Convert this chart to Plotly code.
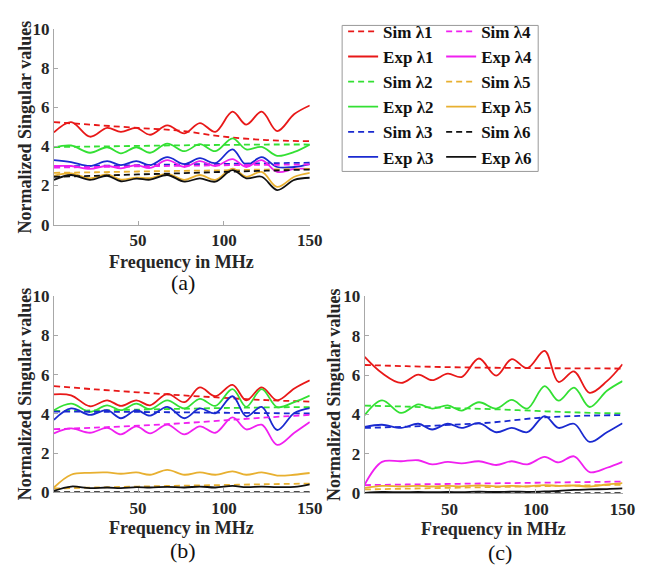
import plotly.graph_objects as go

W, H = 661, 573
SERIF = "Liberation Serif"

# ---------------- data ----------------
exp_freq = [1, 11, 22, 32, 40, 49, 57, 67, 77, 86, 95, 105, 113, 122, 131, 141, 150]
sim_freq = [1, 25, 50, 75, 100, 125, 150]

# panel (a)
a_sim1 = [5.25, 5.10, 4.95, 4.80, 4.50, 4.33, 4.27]
a_sim2 = [3.97, 4.00, 4.03, 4.06, 4.08, 4.10, 4.10]
a_sim3 = [2.98, 3.01, 3.04, 3.08, 3.11, 3.14, 3.17]
a_sim4 = [2.92, 2.95, 2.98, 3.01, 3.04, 3.06, 3.08]
a_sim5 = [2.65, 2.68, 2.72, 2.75, 2.78, 2.82, 2.85]
a_sim6 = [2.45, 2.50, 2.57, 2.63, 2.70, 2.76, 2.82]
a_exp1 = [4.72, 5.25, 4.50, 4.95, 4.75, 4.95, 4.60, 5.08, 4.67, 5.20, 4.75, 5.78, 5.12, 5.78, 4.79, 5.66, 6.10]
a_exp2 = [3.95, 4.05, 3.68, 3.96, 3.65, 3.96, 3.68, 4.15, 3.76, 4.12, 3.76, 4.42, 3.85, 3.98, 3.52, 3.72, 4.10]
a_exp3 = [3.30, 3.20, 3.00, 3.25, 3.05, 3.25, 3.05, 3.45, 3.10, 3.40, 3.15, 3.85, 3.05, 3.45, 2.95, 2.95, 3.10]
a_exp4 = [3.00, 3.00, 2.85, 3.00, 2.88, 3.05, 2.90, 3.30, 2.95, 3.25, 3.00, 3.35, 2.95, 3.30, 2.70, 2.85, 2.85]
a_exp5 = [2.50, 2.62, 2.37, 2.57, 2.30, 2.40, 2.38, 2.60, 2.29, 2.54, 2.29, 2.87, 2.45, 2.70, 1.93, 2.45, 2.65]
a_exp6 = [2.29, 2.54, 2.29, 2.50, 2.22, 2.35, 2.30, 2.54, 2.20, 2.37, 2.20, 2.79, 2.37, 2.45, 1.77, 2.29, 2.40]

# panel (b)
b_sim1 = [5.42, 5.25, 5.10, 4.95, 4.82, 4.70, 4.63]
b_sim2 = [4.15, 4.18, 4.22, 4.26, 4.30, 4.33, 4.35]
b_sim3 = [4.12, 4.11, 4.10, 4.08, 4.06, 4.04, 4.02]
b_sim4 = [3.22, 3.30, 3.40, 3.52, 3.67, 3.82, 3.95]
b_sim5 = [0.20, 0.25, 0.30, 0.34, 0.38, 0.42, 0.45]
b_sim6 = [0.02, 0.02, 0.02, 0.02, 0.02, 0.02, 0.02]
b_exp1 = [5.00, 4.95, 4.39, 4.69, 4.41, 4.69, 4.44, 5.02, 4.60, 5.35, 4.90, 5.48, 4.69, 5.35, 4.69, 5.30, 5.71]
b_exp2 = [4.19, 4.52, 4.11, 4.44, 4.19, 4.52, 4.24, 4.69, 4.28, 4.77, 4.41, 5.26, 4.36, 5.26, 4.35, 4.60, 4.93]
b_exp3 = [3.70, 4.28, 3.95, 4.19, 3.78, 4.19, 3.91, 4.36, 3.78, 4.28, 4.03, 4.90, 3.87, 4.36, 3.18, 4.05, 4.30]
b_exp4 = [3.01, 3.26, 3.04, 3.29, 2.96, 3.37, 3.01, 3.45, 2.96, 3.37, 3.04, 3.82, 3.21, 3.45, 2.42, 3.04, 3.59]
b_exp5 = [0.25, 0.90, 1.00, 1.02, 0.95, 1.02, 0.90, 1.15, 0.90, 1.02, 0.90, 1.07, 0.90, 1.02, 0.86, 0.90, 0.99]
b_exp6 = [0.08, 0.30, 0.22, 0.25, 0.22, 0.27, 0.25, 0.28, 0.25, 0.30, 0.25, 0.33, 0.27, 0.30, 0.27, 0.28, 0.41]

# panel (c)
c_sim1 = [6.51, 6.45, 6.40, 6.37, 6.35, 6.34, 6.33]
c_sim2 = [4.45, 4.40, 4.33, 4.27, 4.18, 4.10, 4.05]
c_sim3 = [3.32, 3.38, 3.47, 3.60, 3.82, 3.93, 3.97]
c_sim4 = [0.42, 0.45, 0.48, 0.51, 0.54, 0.57, 0.60]
c_sim5 = [0.20, 0.24, 0.28, 0.32, 0.36, 0.40, 0.44]
c_sim6 = [0.01, 0.01, 0.01, 0.01, 0.01, 0.01, 0.01]
c_exp1 = [6.92, 6.10, 5.60, 6.02, 5.74, 6.07, 5.90, 6.84, 5.97, 6.81, 6.35, 7.22, 5.65, 6.18, 5.10, 5.69, 6.55]
c_exp2 = [3.97, 4.72, 4.08, 4.51, 4.30, 4.46, 4.20, 4.62, 4.30, 4.74, 4.30, 5.44, 4.70, 5.36, 4.38, 5.20, 5.69]
c_exp3 = [3.37, 3.48, 3.32, 3.53, 3.24, 3.53, 3.32, 3.56, 3.10, 3.32, 3.10, 3.92, 3.32, 3.53, 2.61, 3.10, 3.56]
c_exp4 = [0.45, 1.60, 1.63, 1.68, 1.47, 1.60, 1.52, 1.63, 1.44, 1.63, 1.47, 1.85, 1.57, 1.88, 1.08, 1.30, 1.60]
c_exp5 = [0.28, 0.38, 0.36, 0.38, 0.35, 0.38, 0.36, 0.40, 0.36, 0.38, 0.36, 0.42, 0.38, 0.40, 0.35, 0.45, 0.52]
c_exp6 = [0.03, 0.07, 0.06, 0.07, 0.06, 0.07, 0.06, 0.09, 0.07, 0.09, 0.08, 0.10, 0.12, 0.18, 0.20, 0.22, 0.25]

series_names = ["λ1", "λ2", "λ3", "λ4", "λ5", "λ6"]
colors = ["#e81818", "#33e033", "#1a2ad0", "#f020f0", "#e8b030", "#111111"]

panels = [
    ("x", "y", [a_sim1, a_sim2, a_sim3, a_sim4, a_sim5, a_sim6],
     [a_exp1, a_exp2, a_exp3, a_exp4, a_exp5, a_exp6]),
    ("x2", "y2", [b_sim1, b_sim2, b_sim3, b_sim4, b_sim5, b_sim6],
     [b_exp1, b_exp2, b_exp3, b_exp4, b_exp5, b_exp6]),
    ("x3", "y3", [c_sim1, c_sim2, c_sim3, c_sim4, c_sim5, c_sim6],
     [c_exp1, c_exp2, c_exp3, c_exp4, c_exp5, c_exp6]),
]

fig = go.Figure()
for pi, (xa, ya, sims, exps) in enumerate(panels):
    for i in range(6):
        leg = "legend" if i < 3 else "legend2"
        fig.add_trace(go.Scatter(
            x=sim_freq, y=sims[i], mode="lines", xaxis=xa, yaxis=ya,
            name="Sim " + series_names[i], legendgroup="sim" + str(i),
            showlegend=(pi == 0), legend=leg,
            line=dict(color=colors[i], width=1.8, dash="6px,4px", shape="spline"),
        ))
        fig.add_trace(go.Scatter(
            x=exp_freq, y=exps[i], mode="lines", xaxis=xa, yaxis=ya,
            name="Exp " + series_names[i], legendgroup="exp" + str(i),
            showlegend=(pi == 0), legend=leg,
            line=dict(color=colors[i], width=1.8, shape="spline"),
        ))

def px_x(p):
    return p / W

def px_y(p):
    return (H - p) / H

tickfont = dict(family=SERIF, size=17, color="#262626", weight="bold")
axis_line = "#a8a8a8"

def xaxis(dom, anchor):
    return dict(domain=dom, anchor=anchor, range=[1, 150], tickvals=[50, 100, 150],
                showline=True, linecolor=axis_line, linewidth=1, ticks="inside",
                ticklen=4, tickcolor=axis_line, showgrid=False, zeroline=False,
                tickfont=tickfont, ticklabelstandoff=0)

def yaxis(dom, anchor):
    return dict(domain=dom, anchor=anchor, range=[0, 10], tickvals=[0, 2, 4, 6, 8, 10],
                showline=True, linecolor=axis_line, linewidth=1, ticks="inside",
                ticklen=4, tickcolor=axis_line, showgrid=False, zeroline=False,
                tickfont=tickfont)

legend_font = dict(family=SERIF, size=17, color="#111111", weight="bold")

fig.update_layout(
    width=W, height=H, margin=dict(l=0, r=0, t=0, b=0),
    paper_bgcolor="white", plot_bgcolor="white",
    xaxis=xaxis([px_x(55), px_x(316)], "y"),
    yaxis=yaxis([px_y(223), px_y(21)], "x"),
    xaxis2=xaxis([px_x(55), px_x(316)], "y2"),
    yaxis2=yaxis([px_y(500), px_y(297)], "x2"),
    xaxis3=xaxis([px_x(372), px_x(635)], "y3"),
    yaxis3=yaxis([px_y(501), px_y(297)], "x3"),
    legend=dict(x=px_x(350), y=px_y(5), xanchor="left", yanchor="top",
                bgcolor="rgba(0,0,0,0)", borderwidth=0, font=legend_font,
                traceorder="normal", tracegroupgap=0),
    legend2=dict(x=px_x(450), y=px_y(5), xanchor="left", yanchor="top",
                 bgcolor="rgba(0,0,0,0)", borderwidth=0, font=legend_font,
                 traceorder="normal", tracegroupgap=0),
    shapes=[dict(type="rect", xref="paper", yref="paper",
                 x0=px_x(349), x1=px_x(549), y0=px_y(168), y1=px_y(17),
                 line=dict(color="#999999", width=1))],
    showlegend=True,
)

title_font = dict(family=SERIF, size=18, color="#262626", weight="bold")
label_font = dict(family=SERIF, size=22, color="#111111")
ann = []
for (xc, yc) in [(185.5, 262), (185.5, 537), (503, 538)]:
    ann.append(dict(text="Frequency in MHz", x=px_x(xc), y=px_y(yc), xref="paper", yref="paper",
                    showarrow=False, font=title_font, xanchor="center", yanchor="middle"))
for (xc, yc) in [(25, 122), (25, 398), (340, 399)]:
    ann.append(dict(text="Normalized Singular values", x=px_x(xc), y=px_y(yc), xref="paper",
                    yref="paper", showarrow=False, font=title_font, textangle=-90,
                    xanchor="center", yanchor="middle"))
for (t, xc, yc) in [("(a)", 187, 283), ("(b)", 187, 560), ("(c)", 510, 562)]:
    ann.append(dict(text=t, x=px_x(xc), y=px_y(yc), xref="paper", yref="paper",
                    showarrow=False, font=label_font, xanchor="center", yanchor="middle"))
fig.update_layout(annotations=ann)

fig.write_html("out.html")
